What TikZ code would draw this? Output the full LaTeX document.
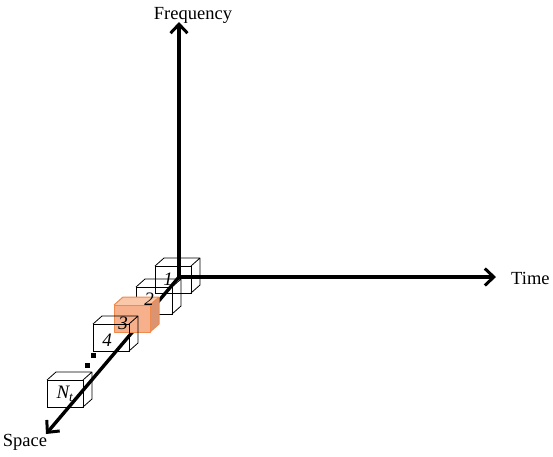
\documentclass[tikz,border=0pt]{standalone}
\usepackage{fontspec}
\setmainfont{Liberation Serif}
\usetikzlibrary{arrows.meta}
\definecolor{ofront}{HTML}{F6B08C}
\definecolor{otop}{HTML}{F9C8AA}
\definecolor{oside}{HTML}{DB9472}
\definecolor{oedge}{HTML}{EE8A4C}
\tikzset{
  axis/.style={line width=3.4pt,-{Straight Barb[length=9pt,width=17pt,line width=3pt]}},
  axlabel/.style={font=\fontsize{18.5}{20}\selectfont,inner sep=0pt},
  cublabel/.style={font=\fontsize{19}{21}\selectfont\itshape,inner sep=0pt},
  wirecube/.pic={
    \draw[line width=0.8pt] (0,0) rectangle (36,27);
    \draw[line width=0.8pt,line join=round] (0,0) -- (9,-8) -- (45,-8) -- (36,0) (45,-8) -- (45,19) -- (36,27);
  },
  orangecube/.pic={
    \fill[ofront] (0,0) rectangle (36,27);
    \fill[otop] (0,0) -- (9,-8) -- (45,-8) -- (36,0) -- cycle;
    \fill[oside] (36,0) -- (45,-8) -- (45,19) -- (36,27) -- cycle;
    \draw[oedge,line width=1pt,line join=round] (0,0) rectangle (36,27);
    \draw[oedge,line width=1pt,line join=round] (0,0) -- (9,-8) -- (45,-8) -- (36,0) (45,-8) -- (45,19) -- (36,27);
  }
}
\begin{document}
\begin{tikzpicture}[x=1pt,y=-1pt]
\useasboundingbox (0,0) rectangle (553,456);
% cubes behind
\pic at (136,287) {wirecube};
\pic at (155,266) {wirecube};
% axes
\coordinate (O) at (179,277);
\coordinate (F) at (179,22);
\coordinate (T) at (496,277);
\coordinate (S) at (46,434);
\draw[axis] (O) -- (F);
\draw[axis] (O) -- (T);
\draw[axis] (O) -- (S);
\node[axlabel] (lf) at (193,15) {Frequency};
\node[axlabel,anchor=west] (lt) at (511,278) {Time};
\node[axlabel] (ls) at (25,442) {Space};
% orange cube
\pic at (114,305) {orangecube};
\pic at (93,324) {wirecube};
\pic at (47,380) {wirecube};
% labels
\node[cublabel] (c1) at (168,279) {1};
\node[cublabel] (c2) at (149,299) {2};
\node[cublabel] (c3) at (123,323) {3};
\node[cublabel] (c4) at (107,340) {4};
\node[cublabel] (cn) at (65,394) {N\textsubscript{t}};
% dots
\fill (91,353) rectangle (95.5,357.5);
\fill (85,363) rectangle (89.5,367.5);
\end{tikzpicture}
\end{document}
